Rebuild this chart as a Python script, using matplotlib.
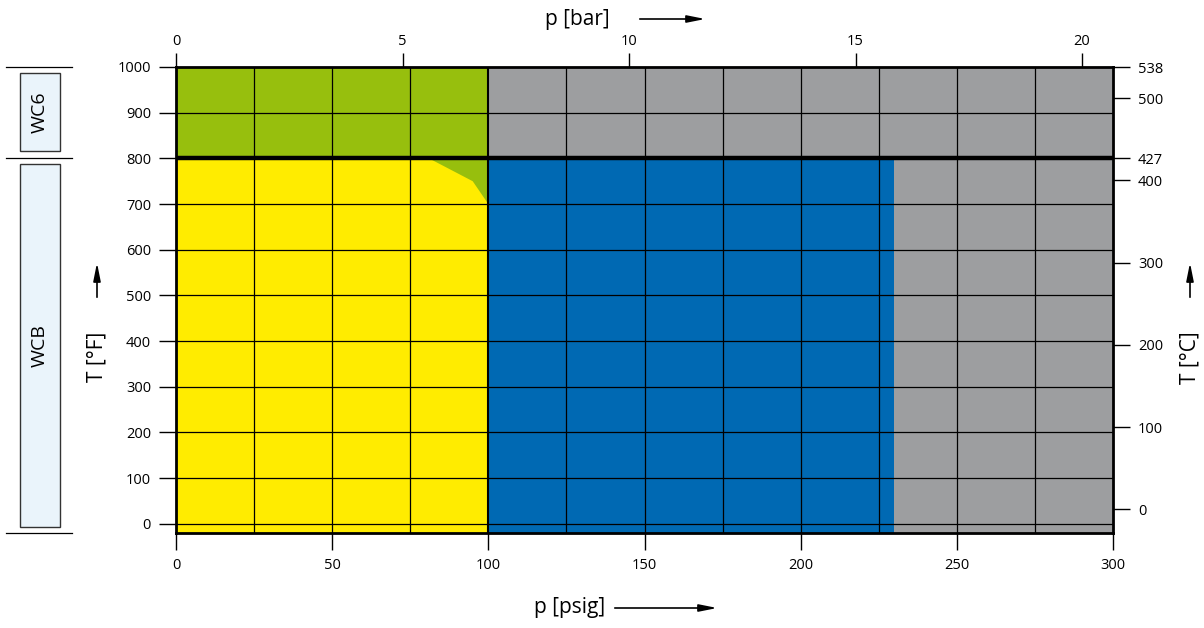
import matplotlib.pyplot as plt
from matplotlib.patches import Polygon, Rectangle, FancyArrowPatch
from matplotlib.transforms import blended_transform_factory

plt.rcParams['font.family'] = ['Open Sans', 'DejaVu Sans']

# pressure / temperature ranges (psig, °F)
p_max = 300
t_min, t_max = -20, 1000
t_split = 800          # WCB below, WC6 above
p_wc6_limit = 100      # green region for WC6
p_wcb_yellow = 100     # yellow region for WCB
p_wcb_blue = 230       # blue region for WCB
green_notch_p = [81, 95, 100, 100]
green_notch_t = [800, 750, 700, 800]

psig_ticks = [0, 50, 100, 150, 200, 250, 300]
degf_ticks = [0, 100, 200, 300, 400, 500, 600, 700, 800, 900, 1000]
bar_ticks = [0, 5, 10, 15, 20]
# 427 and 538 sit exactly on 800 °F and 1000 °F (slightly inside so they are not clipped)
degc_ticks = [0, 100, 200, 300, 400, 426.6, 500, 537.7]
degc_labels = ["0", "100", "200", "300", "400", "427", "500", "538"]

YELLOW = "#ffec00"
GREEN = "#97bf0d"
BLUE = "#0069b3"
GRAY = "#9d9ea0"

fig = plt.figure(figsize=(12.04, 6.28), dpi=100)
ax = fig.add_axes([176 / 1204, 1 - 533 / 628, 937 / 1204, 466 / 628])
ax.set_xlim(0, p_max)
ax.set_ylim(t_min, t_max)

# regions
ax.add_patch(Rectangle((0, t_split), p_wc6_limit, t_max - t_split, color=GREEN, lw=0))
ax.add_patch(Rectangle((p_wc6_limit, t_split), p_max - p_wc6_limit, t_max - t_split, color=GRAY, lw=0))
ax.add_patch(Rectangle((0, t_min), p_wcb_yellow, t_split - t_min, color=YELLOW, lw=0))
ax.add_patch(Rectangle((p_wcb_yellow, t_min), p_wcb_blue - p_wcb_yellow, t_split - t_min, color=BLUE, lw=0))
ax.add_patch(Rectangle((p_wcb_blue, t_min), p_max - p_wcb_blue, t_split - t_min, color=GRAY, lw=0))
ax.add_patch(Polygon(list(zip(green_notch_p, green_notch_t)), closed=True, color=GREEN, lw=0))

# grid
for x in range(25, p_max, 25):
    ax.axvline(x, color="black", lw=1.5 if x == 100 else 0.9, zorder=3)
for y in range(0, t_max, 100):
    ax.axhline(y, color="black", lw=3.2 if y == t_split else 0.9, zorder=3)

for s in ax.spines.values():
    s.set_linewidth(2)
    s.set_zorder(4)

ax.set_xticks(psig_ticks)
ax.set_yticks(degf_ticks)
ax.tick_params(direction="out", length=12, width=1, labelsize=10.5, pad=6)

f2c = lambda f: (f - 32) * 5 / 9
c2f = lambda c: c * 9 / 5 + 32
psi2bar = lambda p: p / 14.5038
bar2psi = lambda b: b * 14.5038

top = ax.secondary_xaxis("top", functions=(psi2bar, bar2psi))
top.set_xticks(bar_ticks)
top.tick_params(direction="out", length=10, width=1, labelsize=10.5, pad=3)
top.spines["top"].set_visible(False)

right = ax.secondary_yaxis("right", functions=(f2c, c2f))
right.set_yticks(degc_ticks, degc_labels)
right.tick_params(direction="out", length=12, width=1, labelsize=10.5, pad=6)
right.spines["right"].set_visible(False)

# material bands on the left
tr = blended_transform_factory(fig.transFigure, ax.transData)
for y in [t_max, t_split, t_min]:
    ax.plot([6 / 1204, 72 / 1204], [y, y], transform=tr, color="black", lw=0.9, clip_on=False)
for (y0, y1, lab) in [(816, 987, "WC6"), (-7, 787, "WCB")]:
    ax.add_patch(Rectangle((20 / 1204, y0), 40 / 1204, y1 - y0, transform=tr,
                           facecolor="#eaf4fb", edgecolor="#333333", lw=1, clip_on=False))
    ax.text(40 / 1204, (y0 + y1) / 2, lab, transform=tr, rotation=90,
            ha="center", va="center", fontsize=14)


# axis titles with arrows (figure pixel positions)
def fx(px):
    return px / 1204


def fy(py):
    return 1 - py / 628


arrow = dict(arrowstyle="-|>,head_length=0.9,head_width=0.18", color="black", lw=1.2)


def add_arrow(p0, p1):
    fig.add_artist(FancyArrowPatch((fx(p0[0]), fy(p0[1])), (fx(p1[0]), fy(p1[1])),
                                   transform=fig.transFigure, mutation_scale=12, **arrow))


fig.text(fx(570), fy(607), "p [psig]", ha="center", va="center", fontsize=15)
add_arrow((612, 608), (720, 608))
fig.text(fx(577), fy(20), "p [bar]", ha="center", va="center", fontsize=15)
add_arrow((637, 19), (708, 19))
fig.text(fx(97), fy(357), "T [°F]", ha="center", va="center", fontsize=15, rotation=90)
add_arrow((97, 300), (97, 260))
fig.text(fx(1190), fy(358), "T [°C]", ha="center", va="center", fontsize=15, rotation=90)
add_arrow((1190, 300), (1190, 260))

fig.savefig("out.png", dpi=100)
